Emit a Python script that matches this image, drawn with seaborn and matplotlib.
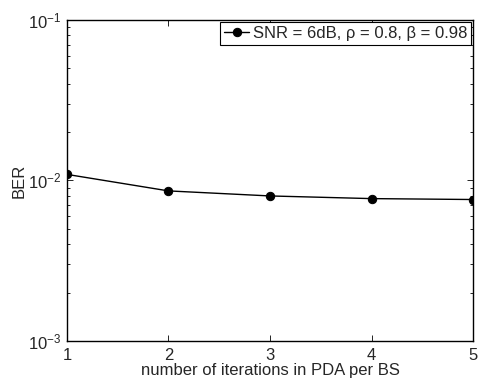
import numpy as np
import pandas as pd
import matplotlib
matplotlib.use("Agg")
import matplotlib.pyplot as plt
import seaborn as sns
from matplotlib.ticker import LogLocator, NullFormatter

# values
iterations = [1, 2, 3, 4, 5]
ber = [0.0109, 0.0086, 0.0080, 0.0077, 0.0076]
series_label = "SNR = 6dB, \u03c1 = 0.8, \u03b2 = 0.98"

df = pd.DataFrame({"iter": iterations, "BER": ber, "series": series_label})

sns.set_style("ticks")
plt.rcParams["font.family"] = ["Liberation Sans", "DejaVu Sans"]
plt.rcParams["font.size"] = 12
plt.rcParams["xtick.direction"] = "in"
plt.rcParams["ytick.direction"] = "in"

fig = plt.figure(figsize=(4.78, 3.83), dpi=100)
ax = fig.add_axes([0.140, 0.110, 0.850, 0.838])

sns.lineplot(data=df, x="iter", y="BER", hue="series", palette=["black"],
             marker="o", markersize=6, markeredgecolor="black", linewidth=1,
             ax=ax)

ax.set_yscale("log")
ax.set_xlim(1, 5)
ax.set_ylim(1e-3, 1e-1)
ax.set_xticks(iterations)
ax.yaxis.set_major_locator(LogLocator(base=10, numticks=10))
ax.yaxis.set_minor_locator(LogLocator(base=10, subs=np.arange(2, 10), numticks=10))
ax.yaxis.set_minor_formatter(NullFormatter())
ax.tick_params(which="both", top=True, right=True, color="black", labelsize=12)
ax.tick_params(which="major", length=4, width=0.6)
ax.tick_params(which="minor", length=2, width=0.6)
ax.tick_params(axis="x", pad=5)
ax.tick_params(axis="y", pad=4)
for s in ax.spines.values():
    s.set_linewidth(1.0)
    s.set_color("black")

ax.set_xlabel("number of iterations in PDA per BS", fontsize=12, labelpad=0)
ax.set_ylabel("BER", fontsize=12, labelpad=1)

leg = ax.legend(loc="upper right", frameon=True, fancybox=False, fontsize=12,
                handlelength=1.5, handletextpad=0.2, borderpad=0.25,
                borderaxespad=0.12)
leg.get_frame().set_edgecolor("black")
leg.get_frame().set_linewidth(0.8)
leg.get_frame().set_alpha(1)

fig.savefig("out.png", dpi=100)
